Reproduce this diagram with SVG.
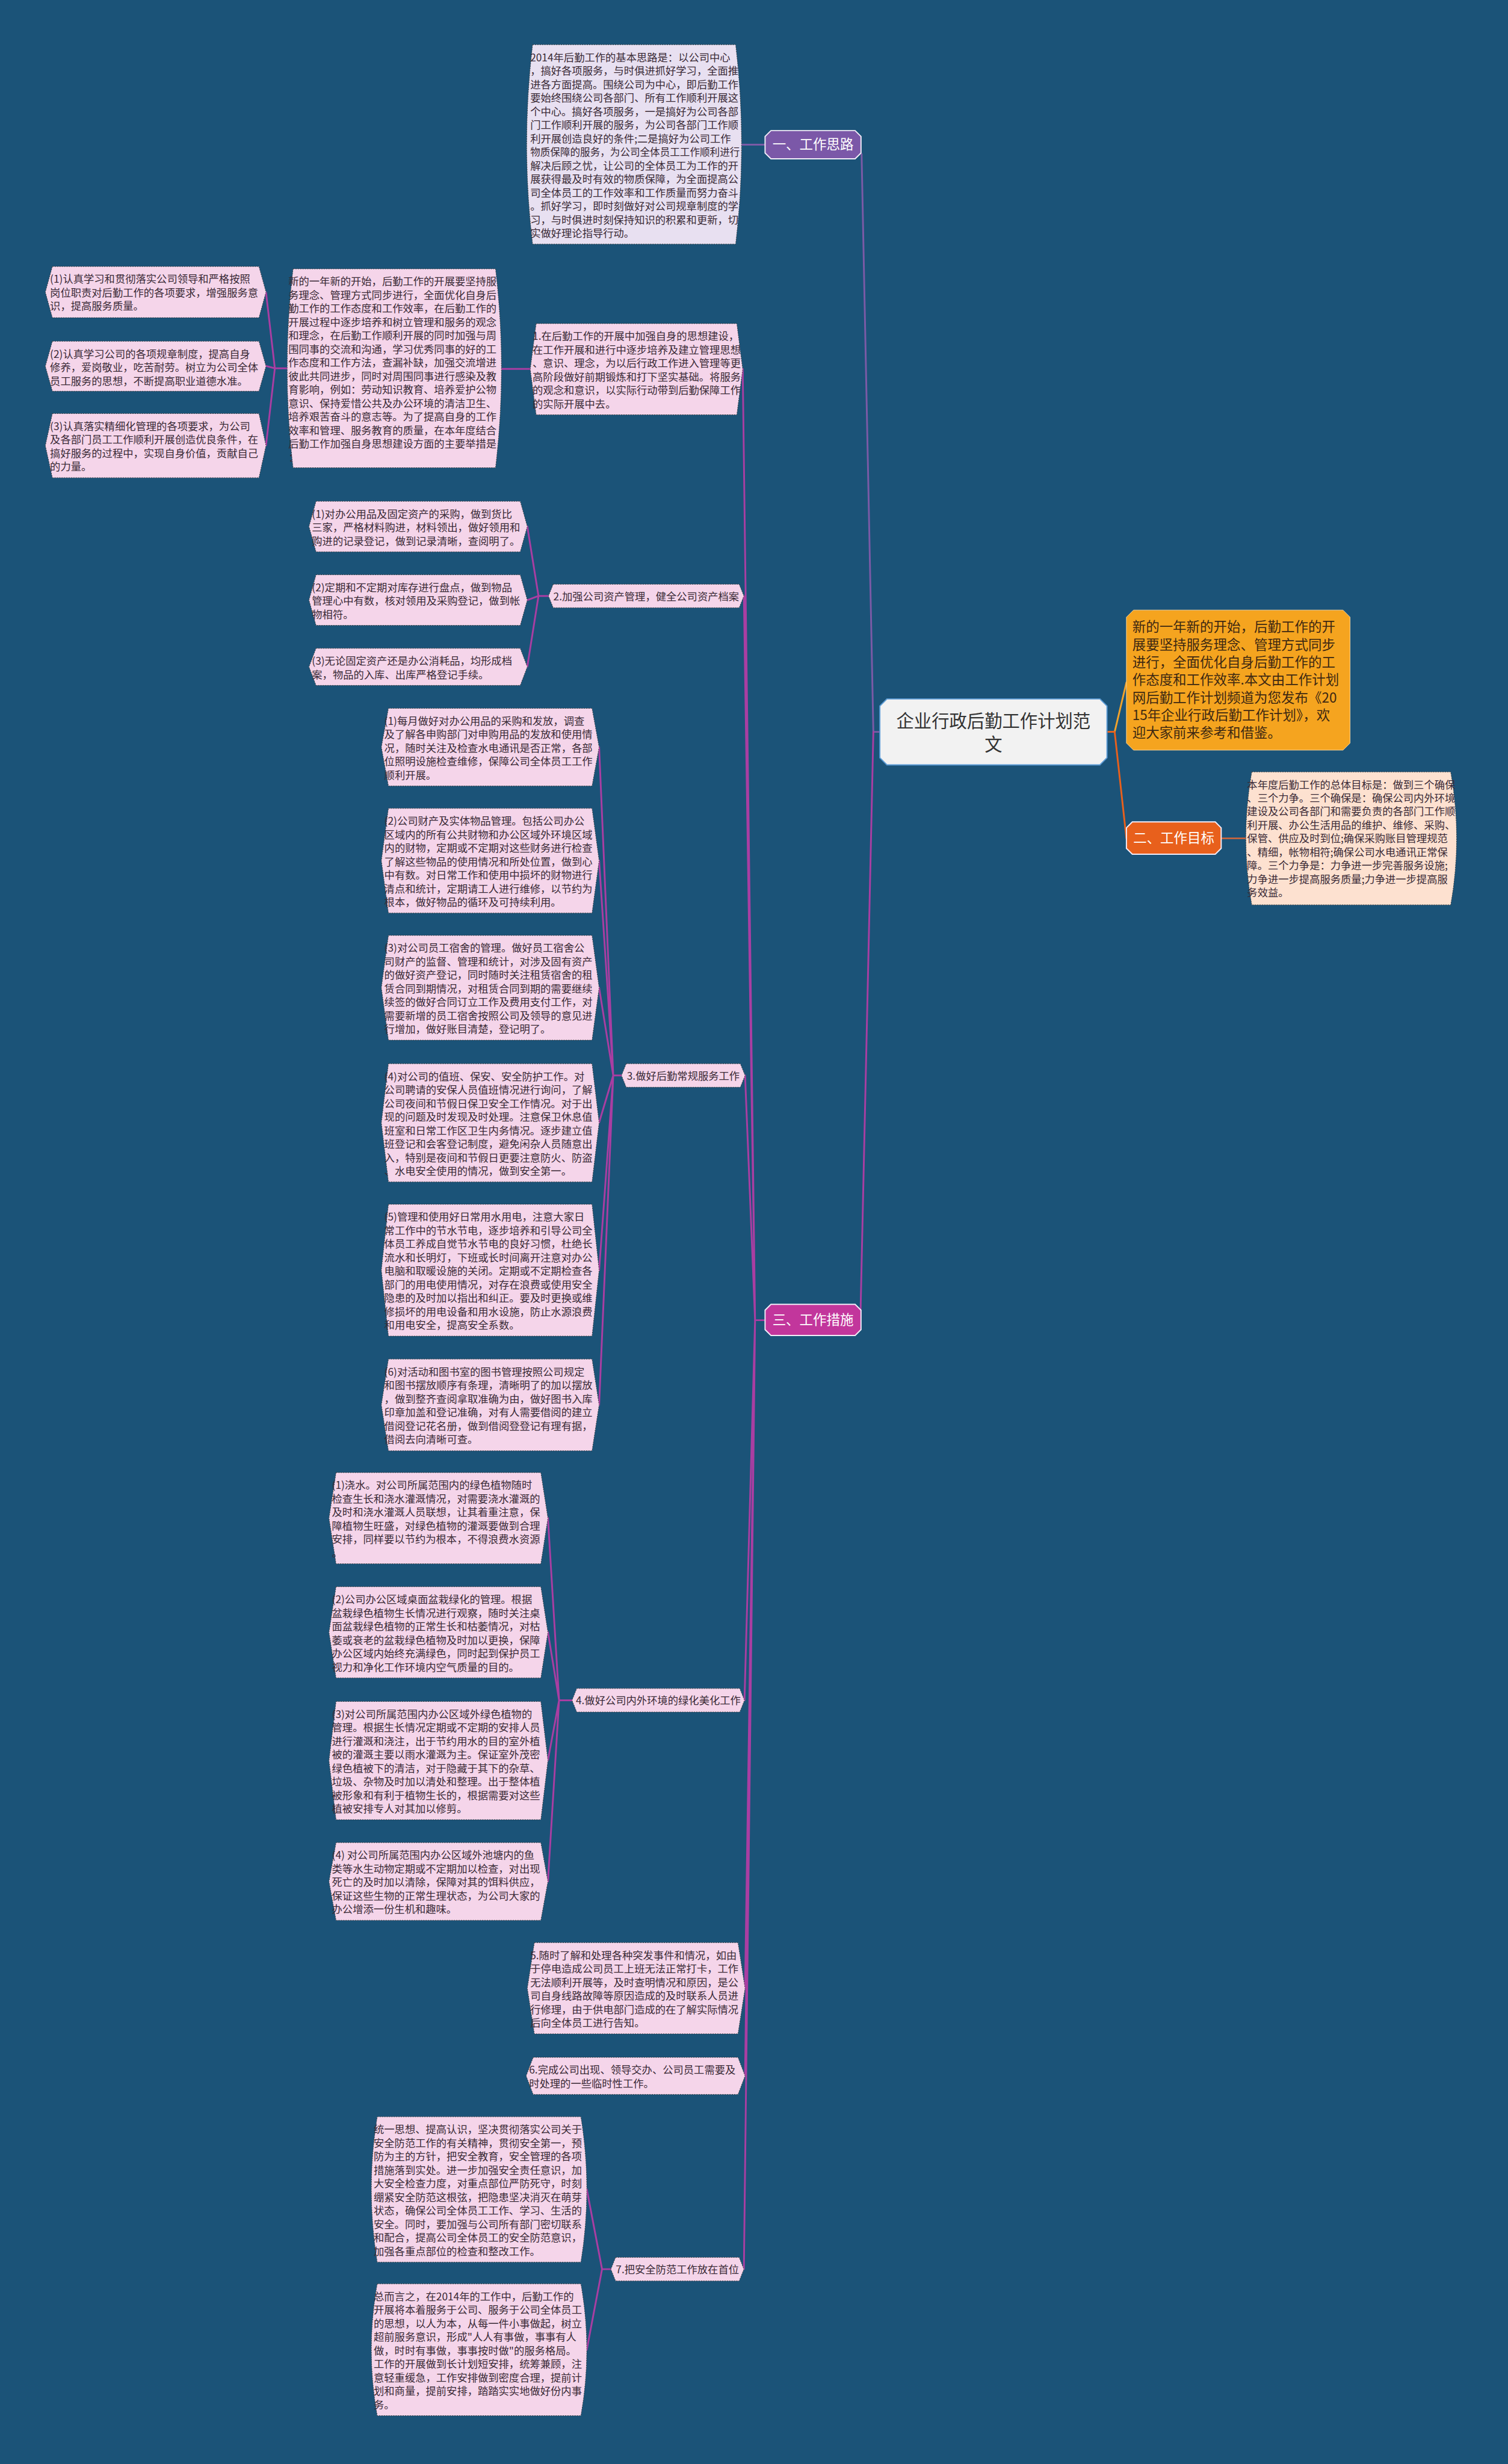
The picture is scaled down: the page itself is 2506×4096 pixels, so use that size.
<svg xmlns="http://www.w3.org/2000/svg" width="2506" height="4096" viewBox="0 0 2506 4096">
<style>
.t{font-family:"Noto Sans CJK SC","Noto Sans",sans-serif;font-size:17.7px;fill:#3a2a36}
.leaf{fill:#f5d5ea;stroke:#3a3a3a;stroke-width:1;stroke-dasharray:2 2}
.lav{fill:#e8e0f1;stroke:#3a3a3a;stroke-width:1;stroke-dasharray:2 2}
.peach{fill:#fde1d0;stroke:#3a3a3a;stroke-width:1;stroke-dasharray:2 2}
.sec{stroke:#f2ecf8;stroke-width:2}
.st{font-family:"Noto Sans CJK SC","Noto Sans",sans-serif;font-size:23px;fill:#ffffff;text-anchor:middle}
.c{fill:none;stroke-width:3;stroke-linejoin:round;stroke-linecap:round}
.p1{stroke:#7b5aa6}
.p3{stroke:#a93ea2}
</style>
<rect x="0" y="0" width="2506" height="4096" fill="#1b5378"/>
<g transform="scale(0.978)">
<g id="connectors">
<path class="c p1" d="M1495 1244 H1484 L1464 262"/>
<path class="c p1" d="M1300 246 H1260"/>
<path class="c p3" d="M1484 1244 L1462 2240"/>
<path class="c p3" d="M1300 2244 H1283"/>
<path class="c p3" d="M1283 2244 L1262 627 M1283 2244 L1264 1013 M1283 2244 L1266 1828 M1283 2244 L1265 2890 M1283 2244 L1266 3380 M1283 2244 L1266 3528 M1283 2244 L1264 3857"/>
<path class="c p3" d="M901 627 H852"/>
<path class="c p3" d="M488 626 H467 M467 626 L452 497 M467 626 L452 622 M467 626 L452 757"/>
<path class="c p3" d="M932 1013 H915 M915 1013 L896 895 M915 1013 L896 1020 M915 1013 L896 1133"/>
<path class="c p3" d="M1056 1828 H1042 M1042 1828 L1018 1270 M1042 1828 L1018 1463 M1042 1828 L1018 1679 M1042 1828 L1018 1908 M1042 1828 L1018 2159 M1042 1828 L1018 2388"/>
<path class="c p3" d="M972 2890 H950 M950 2890 L931 2580 M950 2890 L931 2774 M950 2890 L931 2992 M950 2890 L931 3198"/>
<path class="c p3" d="M1038 3857 H1023 M1023 3857 L997 3721 M1023 3857 L997 3994"/>
<path class="c" stroke="#f2a22a" d="M1881 1244 H1894 L1914 1160"/>
<path class="c" stroke="#e8601c" d="M1881 1244 H1894 L1914 1425"/>
<path class="c" stroke="#c4653f" d="M2075 1425 H2117"/>
</g>

<g id="root">
<path d="M1507 1188 H1869 L1881 1200 V1288 L1869 1300 H1507 L1495 1288 V1200 Z" fill="#f2f2f2" stroke="#5b9bd5" stroke-width="2"/>
<text x="1688" y="1236" style="font-family:'Noto Sans CJK SC','Noto Sans',sans-serif;font-size:30px;fill:#333;text-anchor:middle">企业行政后勤工作计划范</text>
<text x="1688" y="1276" style="font-family:'Noto Sans CJK SC','Noto Sans',sans-serif;font-size:30px;fill:#333;text-anchor:middle">文</text>
</g>

<g id="intro">
<path d="M1926 1037 H2282 L2294 1049 V1263 L2282 1275 H1926 L1914 1263 V1049 Z" fill="#f5a41f" stroke="#f8d49a" stroke-width="1"/>
<text style="font-family:'Noto Sans CJK SC','Noto Sans',sans-serif;font-size:23px;fill:#3d2812">
<tspan x="1924" y="1074">新的一年新的开始，后勤工作的开</tspan>
<tspan x="1924" y="1104">展要坚持服务理念、管理方式同步</tspan>
<tspan x="1924" y="1134">进行，全面优化自身后勤工作的工</tspan>
<tspan x="1924" y="1164">作态度和工作效率.本文由工作计划</tspan>
<tspan x="1924" y="1194">网后勤工作计划频道为您发布《20</tspan>
<tspan x="1924" y="1224">15年企业行政后勤工作计划》，欢</tspan>
<tspan x="1924" y="1254">迎大家前来参考和借鉴。</tspan>
</text>
</g>

<g id="sec1">
<path class="sec" d="M1310 222 H1453 L1463 232 V260 L1453 270 H1310 L1300 260 V232 Z" fill="#7b58a8"/>
<text class="st" x="1381.5" y="254">一、工作思路</text>
</g>
<g id="sec1-text">
<path class="lav" d="M905 76 H1250 Q1270 245.5 1250 415 H905 Q885 245.5 905 76 Z"/>
<text class="t">
<tspan x="901" y="104">2014年后勤工作的基本思路是：以公司中心</tspan>
<tspan x="901" y="127">，搞好各项服务，与时俱进抓好学习，全面推</tspan>
<tspan x="901" y="150">进各方面提高。围绕公司为中心，即后勤工作</tspan>
<tspan x="901" y="173">要始终围绕公司各部门、所有工作顺利开展这</tspan>
<tspan x="901" y="196">个中心。搞好各项服务，一是搞好为公司各部</tspan>
<tspan x="901" y="219">门工作顺利开展的服务，为公司各部门工作顺</tspan>
<tspan x="901" y="242">利开展创造良好的条件;二是搞好为公司工作</tspan>
<tspan x="901" y="265" textLength="356" lengthAdjust="spacingAndGlyphs">物质保障的服务，为公司全体员工工作顺利进行</tspan>
<tspan x="901" y="288">解决后顾之忧，让公司的全体员工为工作的开</tspan>
<tspan x="901" y="311">展获得最及时有效的物质保障，为全面提高公</tspan>
<tspan x="901" y="334">司全体员工的工作效率和工作质量而努力奋斗</tspan>
<tspan x="901" y="357">。抓好学习，即时刻做好对公司规章制度的学</tspan>
<tspan x="901" y="380">习，与时俱进时刻保持知识的积累和更新，切</tspan>
<tspan x="901" y="403">实做好理论指导行动。</tspan>
</text>
</g>

<g id="sec2">
<path class="sec" d="M1924 1397 H2065 L2075 1407 V1442 L2065 1452 H1924 L1914 1442 V1407 Z" fill="#e8601c"/>
<text class="st" x="1994.5" y="1433">二、工作目标</text>
</g>
<g id="sec2-text">
<path class="peach" d="M2127 1312 H2465 Q2485 1425 2465 1538 H2127 Q2107 1425 2127 1312 Z"/>
<text class="t">
<tspan x="2119" y="1340">本年度后勤工作的总体目标是：做到三个确保</tspan>
<tspan x="2119" y="1363">、三个力争。三个确保是：确保公司内外环境</tspan>
<tspan x="2119" y="1386">建设及公司各部门和需要负责的各部门工作顺</tspan>
<tspan x="2119" y="1409">利开展、办公生活用品的维护、维修、采购、</tspan>
<tspan x="2119" y="1432">保管、供应及时到位;确保采购账目管理规范</tspan>
<tspan x="2119" y="1455">、精细，帐物相符;确保公司水电通讯正常保</tspan>
<tspan x="2119" y="1478">障。三个力争是：力争进一步完善服务设施;</tspan>
<tspan x="2119" y="1501">力争进一步提高服务质量;力争进一步提高服</tspan>
<tspan x="2119" y="1524">务效益。</tspan>
</text>
</g>

<g id="sec3">
<path class="sec" d="M1310 2217 H1453 L1463 2227 V2260 L1453 2270 H1310 L1300 2260 V2227 Z" fill="#c2369c"/>
<text class="st" x="1381.5" y="2252">三、工作措施</text>
</g>

<g id="n1">
<path class="leaf" d="M911 550 H1252 L1262 627.5 L1252 705 H911 L901 627.5 Z"/>
<text class="t">
<tspan x="905" y="578">1.在后勤工作的开展中加强自身的思想建设，</tspan>
<tspan x="905" y="601">在工作开展和进行中逐步培养及建立管理思想</tspan>
<tspan x="905" y="624">、意识、理念，为以后行政工作进入管理等更</tspan>
<tspan x="905" y="647">高阶段做好前期锻炼和打下坚实基础。将服务</tspan>
<tspan x="905" y="670">的观念和意识，以实际行动带到后勤保障工作</tspan>
<tspan x="905" y="693">的实际开展中去。</tspan>
</text>
</g>
<g id="n1-main">
<path class="leaf" d="M498 457 H842 Q862 626 842 795 H498 Q478 626 498 457 Z"/>
<text class="t">
<tspan x="490" y="485">新的一年新的开始，后勤工作的开展要坚持服</tspan>
<tspan x="490" y="508">务理念、管理方式同步进行，全面优化自身后</tspan>
<tspan x="490" y="531">勤工作的工作态度和工作效率，在后勤工作的</tspan>
<tspan x="490" y="554">开展过程中逐步培养和树立管理和服务的观念</tspan>
<tspan x="490" y="577">和理念，在后勤工作顺利开展的同时加强与周</tspan>
<tspan x="490" y="600">围同事的交流和沟通，学习优秀同事的好的工</tspan>
<tspan x="490" y="623">作态度和工作方法，查漏补缺，加强交流增进</tspan>
<tspan x="490" y="646">彼此共同进步，同时对周围同事进行感染及教</tspan>
<tspan x="490" y="669">育影响，例如：劳动知识教育、培养爱护公物</tspan>
<tspan x="490" y="692">意识、保持爱惜公共及办公环境的清洁卫生、</tspan>
<tspan x="490" y="715">培养艰苦奋斗的意志等。为了提高自身的工作</tspan>
<tspan x="490" y="738">效率和管理、服务教育的质量，在本年度结合</tspan>
<tspan x="490" y="761">后勤工作加强自身思想建设方面的主要举措是</tspan>
<tspan x="490" y="784">：</tspan>
</text>
</g>
<g id="n1-a">
<path class="leaf" d="M89 453 H440 L452 496.5 L440 540 H89 L77 496.5 Z"/>
<text class="t">
<tspan x="85" y="481">(1)认真学习和贯彻落实公司领导和严格按照</tspan>
<tspan x="85" y="504">岗位职责对后勤工作的各项要求，增强服务意</tspan>
<tspan x="85" y="527">识，提高服务质量。</tspan>
</text>
</g>
<g id="n1-b">
<path class="leaf" d="M89 580 H440 L452 622.5 L440 665 H89 L77 622.5 Z"/>
<text class="t">
<tspan x="85" y="608">(2)认真学习公司的各项规章制度，提高自身</tspan>
<tspan x="85" y="631">修养，爱岗敬业，吃苦耐劳。树立为公司全体</tspan>
<tspan x="85" y="654">员工服务的思想，不断提高职业道德水准。</tspan>
</text>
</g>
<g id="n1-c">
<path class="leaf" d="M89 703 H440 L452 757.5 L440 812 H89 L77 757.5 Z"/>
<text class="t">
<tspan x="85" y="731">(3)认真落实精细化管理的各项要求，为公司</tspan>
<tspan x="85" y="754">及各部门员工工作顺利开展创造优良条件，在</tspan>
<tspan x="85" y="777">搞好服务的过程中，实现自身价值，贡献自己</tspan>
<tspan x="85" y="800">的力量。</tspan>
</text>
</g>

<g id="n2">
<path class="leaf" d="M940 993 H1256 L1264 1013 L1256 1033 H940 L932 1013 Z"/>
<text class="t" x="1098" y="1020" text-anchor="middle">2.加强公司资产管理，健全公司资产档案</text>
</g>
<g id="n2-a">
<path class="leaf" d="M537 852 H884 L896 895 L884 938 H537 L525 895 Z"/>
<text class="t">
<tspan x="530" y="880">(1)对办公用品及固定资产的采购，做到货比</tspan>
<tspan x="530" y="903">三家，严格材料购进，材料领出，做好领用和</tspan>
<tspan x="530" y="926">购进的记录登记，做到记录清晰，查阅明了。</tspan>
</text>
</g>
<g id="n2-b">
<path class="leaf" d="M537 977 H884 L896 1020 L884 1063 H537 L525 1020 Z"/>
<text class="t">
<tspan x="530" y="1005">(2)定期和不定期对库存进行盘点，做到物品</tspan>
<tspan x="530" y="1028">管理心中有数，核对领用及采购登记，做到帐</tspan>
<tspan x="530" y="1051">物相符。</tspan>
</text>
</g>
<g id="n2-c">
<path class="leaf" d="M537 1102 H884 L896 1133.5 L884 1165 H537 L525 1133.5 Z"/>
<text class="t">
<tspan x="530" y="1130">(3)无论固定资产还是办公消耗品，均形成档</tspan>
<tspan x="530" y="1153">案，物品的入库、出库严格登记手续。</tspan>
</text>
</g>

<g id="n3">
<path class="leaf" d="M1064 1808 H1258 L1266 1828 L1258 1848 H1064 L1056 1828 Z"/>
<text class="t" x="1161" y="1835" text-anchor="middle">3.做好后勤常规服务工作</text>
</g>
<g id="n3-a">
<path class="leaf" d="M660 1204 H1006 L1018 1270 L1006 1336 H660 L648 1270 Z"/>
<text class="t">
<tspan x="653" y="1232">(1)每月做好对办公用品的采购和发放，调查</tspan>
<tspan x="653" y="1255">及了解各申购部门对申购用品的发放和使用情</tspan>
<tspan x="653" y="1278">况，随时关注及检查水电通讯是否正常，各部</tspan>
<tspan x="653" y="1301">位照明设施检查维修，保障公司全体员工工作</tspan>
<tspan x="653" y="1324">顺利开展。</tspan>
</text>
</g>
<g id="n3-b">
<path class="leaf" d="M660 1374 H1006 L1018 1463 L1006 1552 H660 L648 1463 Z"/>
<text class="t">
<tspan x="653" y="1402">(2)公司财产及实体物品管理。包括公司办公</tspan>
<tspan x="653" y="1425">区域内的所有公共财物和办公区域外环境区域</tspan>
<tspan x="653" y="1448">内的财物，定期或不定期对这些财务进行检查</tspan>
<tspan x="653" y="1471">了解这些物品的使用情况和所处位置，做到心</tspan>
<tspan x="653" y="1494">中有数。对日常工作和使用中损坏的财物进行</tspan>
<tspan x="653" y="1517">清点和统计，定期请工人进行维修，以节约为</tspan>
<tspan x="653" y="1540">根本，做好物品的循环及可持续利用。</tspan>
</text>
</g>
<g id="n3-c">
<path class="leaf" d="M660 1590 H1006 L1018 1679 L1006 1768 H660 L648 1679 Z"/>
<text class="t">
<tspan x="653" y="1618">(3)对公司员工宿舍的管理。做好员工宿舍公</tspan>
<tspan x="653" y="1641">司财产的监督、管理和统计，对涉及固有资产</tspan>
<tspan x="653" y="1664">的做好资产登记，同时随时关注租赁宿舍的租</tspan>
<tspan x="653" y="1687">赁合同到期情况，对租赁合同到期的需要继续</tspan>
<tspan x="653" y="1710">续签的做好合同订立工作及费用支付工作，对</tspan>
<tspan x="653" y="1733">需要新增的员工宿舍按照公司及领导的意见进</tspan>
<tspan x="653" y="1756">行增加，做好账目清楚，登记明了。</tspan>
</text>
</g>
<g id="n3-d">
<path class="leaf" d="M660 1808 H1006 L1018 1908.5 L1006 2009 H660 L648 1908.5 Z"/>
<text class="t">
<tspan x="653" y="1836">(4)对公司的值班、保安、安全防护工作。对</tspan>
<tspan x="653" y="1859">公司聘请的安保人员值班情况进行询问，了解</tspan>
<tspan x="653" y="1882">公司夜间和节假日保卫安全工作情况。对于出</tspan>
<tspan x="653" y="1905">现的问题及时发现及时处理。注意保卫休息值</tspan>
<tspan x="653" y="1928">班室和日常工作区卫生内务情况。逐步建立值</tspan>
<tspan x="653" y="1951">班登记和会客登记制度，避免闲杂人员随意出</tspan>
<tspan x="653" y="1974">入，特别是夜间和节假日更要注意防火、防盗</tspan>
<tspan x="653" y="1997">、水电安全使用的情况，做到安全第一。</tspan>
</text>
</g>
<g id="n3-e">
<path class="leaf" d="M660 2047 H1006 L1018 2159 L1006 2271 H660 L648 2159 Z"/>
<text class="t">
<tspan x="653" y="2075">(5)管理和使用好日常用水用电，注意大家日</tspan>
<tspan x="653" y="2098">常工作中的节水节电，逐步培养和引导公司全</tspan>
<tspan x="653" y="2121">体员工养成自觉节水节电的良好习惯，杜绝长</tspan>
<tspan x="653" y="2144">流水和长明灯，下班或长时间离开注意对办公</tspan>
<tspan x="653" y="2167">电脑和取暖设施的关闭。定期或不定期检查各</tspan>
<tspan x="653" y="2190">部门的用电使用情况，对存在浪费或使用安全</tspan>
<tspan x="653" y="2213">隐患的及时加以指出和纠正。要及时更换或维</tspan>
<tspan x="653" y="2236">修损坏的用电设备和用水设施，防止水源浪费</tspan>
<tspan x="653" y="2259">和用电安全，提高安全系数。</tspan>
</text>
</g>
<g id="n3-f">
<path class="leaf" d="M660 2310 H1006 L1018 2388 L1006 2466 H660 L648 2388 Z"/>
<text class="t">
<tspan x="653" y="2338">(6)对活动和图书室的图书管理按照公司规定</tspan>
<tspan x="653" y="2361">和图书摆放顺序有条理，清晰明了的加以摆放</tspan>
<tspan x="653" y="2384">，做到整齐查阅拿取准确为由，做好图书入库</tspan>
<tspan x="653" y="2407">印章加盖和登记准确，对有人需要借阅的建立</tspan>
<tspan x="653" y="2430">借阅登记花名册，做到借阅登登记有理有据，</tspan>
<tspan x="653" y="2453">借阅去向清晰可查。</tspan>
</text>
</g>

<g id="n4">
<path class="leaf" d="M980 2870 H1257 L1265 2890 L1257 2910 H980 L972 2890 Z"/>
<text class="t" x="1118.5" y="2897" text-anchor="middle">4.做好公司内外环境的绿化美化工作</text>
</g>
<g id="n4-a">
<path class="leaf" d="M571 2503 H919 L931 2580.5 L919 2658 H571 L559 2580.5 Z"/>
<text class="t">
<tspan x="564" y="2531">(1)浇水。对公司所属范围内的绿色植物随时</tspan>
<tspan x="564" y="2554">检查生长和浇水灌溉情况，对需要浇水灌溉的</tspan>
<tspan x="564" y="2577">及时和浇水灌溉人员联想，让其着重注意，保</tspan>
<tspan x="564" y="2600">障植物生旺盛，对绿色植物的灌溉要做到合理</tspan>
<tspan x="564" y="2623">安排，同样要以节约为根本，不得浪费水资源</tspan>
<tspan x="564" y="2646">。</tspan>
</text>
</g>
<g id="n4-b">
<path class="leaf" d="M571 2697 H919 L931 2774.5 L919 2852 H571 L559 2774.5 Z"/>
<text class="t">
<tspan x="564" y="2725">(2)公司办公区域桌面盆栽绿化的管理。根据</tspan>
<tspan x="564" y="2748">盆栽绿色植物生长情况进行观察，随时关注桌</tspan>
<tspan x="564" y="2771">面盆栽绿色植物的正常生长和枯萎情况，对枯</tspan>
<tspan x="564" y="2794">萎或衰老的盆栽绿色植物及时加以更换，保障</tspan>
<tspan x="564" y="2817">办公区域内始终充满绿色，同时起到保护员工</tspan>
<tspan x="564" y="2840">视力和净化工作环境内空气质量的目的。</tspan>
</text>
</g>
<g id="n4-c">
<path class="leaf" d="M571 2892 H919 L931 2992.5 L919 3093 H571 L559 2992.5 Z"/>
<text class="t">
<tspan x="564" y="2920">(3)对公司所属范围内办公区域外绿色植物的</tspan>
<tspan x="564" y="2943">管理。根据生长情况定期或不定期的安排人员</tspan>
<tspan x="564" y="2966">进行灌溉和浇注，出于节约用水的目的室外植</tspan>
<tspan x="564" y="2989">被的灌溉主要以雨水灌溉为主。保证室外茂密</tspan>
<tspan x="564" y="3012">绿色植被下的清洁，对于隐藏于其下的杂草、</tspan>
<tspan x="564" y="3035">垃圾、杂物及时加以清处和整理。出于整体植</tspan>
<tspan x="564" y="3058">被形象和有利于植物生长的，根据需要对这些</tspan>
<tspan x="564" y="3081">植被安排专人对其加以修剪。</tspan>
</text>
</g>
<g id="n4-d">
<path class="leaf" d="M571 3132 H919 L931 3198 L919 3264 H571 L559 3198 Z"/>
<text class="t">
<tspan x="564" y="3160">(4) 对公司所属范围内办公区域外池塘内的鱼</tspan>
<tspan x="564" y="3183">类等水生动物定期或不定期加以检查，对出现</tspan>
<tspan x="564" y="3206">死亡的及时加以清除，保障对其的饵料供应，</tspan>
<tspan x="564" y="3229">保证这些生物的正常生理状态，为公司大家的</tspan>
<tspan x="564" y="3252">办公增添一份生机和趣味。</tspan>
</text>
</g>

<g id="n5">
<path class="leaf" d="M908 3302 H1254 L1266 3379.5 L1254 3457 H908 L896 3379.5 Z"/>
<text class="t">
<tspan x="901" y="3330">5.随时了解和处理各种突发事件和情况，如由</tspan>
<tspan x="901" y="3353">于停电造成公司员工上班无法正常打卡，工作</tspan>
<tspan x="901" y="3376">无法顺利开展等，及时查明情况和原因，是公</tspan>
<tspan x="901" y="3399">司自身线路故障等原因造成的及时联系人员进</tspan>
<tspan x="901" y="3422">行修理，由于供电部门造成的在了解实际情况</tspan>
<tspan x="901" y="3445">后向全体员工进行告知。</tspan>
</text>
</g>
<g id="n6">
<path class="leaf" d="M906 3497 H1254 L1266 3528.5 L1254 3560 H906 L894 3528.5 Z"/>
<text class="t">
<tspan x="899" y="3525">6.完成公司出现、领导交办、公司员工需要及</tspan>
<tspan x="899" y="3548">时处理的一些临时性工作。</tspan>
</text>
</g>

<g id="n7">
<path class="leaf" d="M1046 3837 H1256 L1264 3857 L1256 3877 H1046 L1038 3857 Z"/>
<text class="t" x="1151" y="3864" text-anchor="middle">7.把安全防范工作放在首位</text>
</g>
<g id="n7-a">
<path class="leaf" d="M641 3598 H987 Q1007 3721.5 987 3845 H641 Q621 3721.5 641 3598 Z"/>
<text class="t">
<tspan x="635" y="3626">统一思想、提高认识，坚决贯彻落实公司关于</tspan>
<tspan x="635" y="3649">安全防范工作的有关精神，贯彻安全第一，预</tspan>
<tspan x="635" y="3672">防为主的方针，把安全教育，安全管理的各项</tspan>
<tspan x="635" y="3695">措施落到实处。进一步加强安全责任意识，加</tspan>
<tspan x="635" y="3718">大安全检查力度，对重点部位严防死守，时刻</tspan>
<tspan x="635" y="3741">绷紧安全防范这根弦，把隐患坚决消灭在萌芽</tspan>
<tspan x="635" y="3764">状态，确保公司全体员工工作、学习、生活的</tspan>
<tspan x="635" y="3787">安全。同时，要加强与公司所有部门密切联系</tspan>
<tspan x="635" y="3810">和配合，提高公司全体员工的安全防范意识，</tspan>
<tspan x="635" y="3833">加强各重点部位的检查和整改工作。</tspan>
</text>
</g>
<g id="n7-b">
<path class="leaf" d="M641 3882 H987 Q1007 3994 987 4106 H641 Q621 3994 641 3882 Z"/>
<text class="t">
<tspan x="635" y="3910">总而言之，在2014年的工作中，后勤工作的</tspan>
<tspan x="635" y="3933">开展将本着服务于公司、服务于公司全体员工</tspan>
<tspan x="635" y="3956">的思想，以人为本，从每一件小事做起，树立</tspan>
<tspan x="635" y="3979">超前服务意识，形成"人人有事做，事事有人</tspan>
<tspan x="635" y="4002">做，时时有事做，事事按时做"的服务格局。</tspan>
<tspan x="635" y="4025">工作的开展做到长计划短安排，统筹兼顾，注</tspan>
<tspan x="635" y="4048">意轻重缓急，工作安排做到密度合理，提前计</tspan>
<tspan x="635" y="4071">划和商量，提前安排，踏踏实实地做好份内事</tspan>
<tspan x="635" y="4094">务。</tspan>
</text>
</g>
</g>
</svg>
